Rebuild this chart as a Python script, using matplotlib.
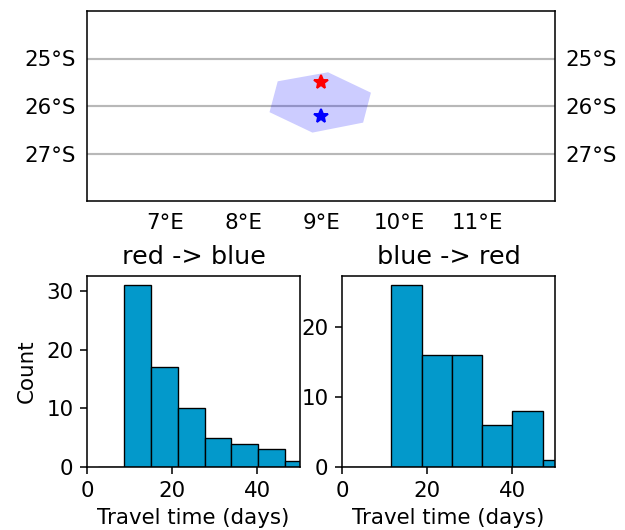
import matplotlib
matplotlib.use('Agg')
import matplotlib.pyplot as plt
from matplotlib.patches import Polygon

# map part
lon_ticks = [7, 8, 9, 10, 11]
lat_ticks = [-25, -26, -27]
lon_labels = ['7°E', '8°E', '9°E', '10°E', '11°E']
lat_labels = ['25°S', '26°S', '27°S']
poly_lon = [8.445, 9.09, 9.64, 9.54, 8.89, 8.34]
poly_lat = [-25.48, -25.29, -25.72, -26.35, -26.56, -26.13]
red_lon, red_lat = 9.0, -25.5
blue_lon, blue_lat = 9.0, -26.2

# histograms
edges_rb = [2.47, 8.75, 15.0, 21.3, 27.6, 33.9, 40.1, 46.4, 52.7]
counts_rb = [0, 31, 17, 10, 5, 4, 3, 1]
edges_br = [-2.6, 4.5, 11.6, 18.7, 25.8, 32.9, 40.0, 47.1, 54.2]
counts_br = [0, 0, 26, 16, 16, 6, 8, 1]

W, H = 625, 530
DPI = 140
bar_color = '#0399cb'

plt.rcParams['font.size'] = 11
plt.rcParams['axes.titlesize'] = 13.1

fig = plt.figure(figsize=(W / DPI, H / DPI), dpi=DPI)


def make_axes(x0, y0, x1, y1):
    return fig.add_axes([x0 / W, 1 - y1 / H, (x1 - x0) / W, (y1 - y0) / H])


ax_map = make_axes(87, 11, 555, 201)
ax_map.set_xlim(6, 12)
ax_map.set_ylim(-28, -24)
ax_map.set_xticks(lon_ticks)
ax_map.set_xticklabels(lon_labels)
ax_map.set_yticks(lat_ticks)
ax_map.set_yticklabels(lat_labels)
ax_map.tick_params(length=0, pad=5.5, labelleft=True, labelright=True)
ax_map.tick_params(axis='x', pad=6)
ax_map.grid(axis='y', color='#b8b8b8', linewidth=1.1)
ax_map.add_patch(Polygon(list(zip(poly_lon, poly_lat)), closed=True, facecolor='blue',
                         edgecolor='none', alpha=0.2, zorder=3))
ax_map.plot(red_lon, red_lat, marker='*', color='red', markersize=7.5, zorder=4)
ax_map.plot(blue_lon, blue_lat, marker='*', color='blue', markersize=7.5, zorder=4)

ax1 = make_axes(87, 276, 300, 467)
ax1.bar(edges_rb[:-1], counts_rb, width=[b - a for a, b in zip(edges_rb[:-1], edges_rb[1:])],
        align='edge', color=bar_color, edgecolor='black', linewidth=0.7)
ax1.set_xlim(0, 50)
ax1.set_ylim(0, 32.55)
ax1.set_xticks([0, 20, 40])
ax1.set_yticks([0, 10, 20, 30])
ax1.set_title('red -> blue')
ax1.set_xlabel('Travel time (days)')
ax1.set_ylabel('Count', labelpad=5)

ax2 = make_axes(342, 276, 555, 467)
ax2.bar(edges_br[:-1], counts_br, width=[b - a for a, b in zip(edges_br[:-1], edges_br[1:])],
        align='edge', color=bar_color, edgecolor='black', linewidth=0.7)
ax2.set_xlim(0, 50)
ax2.set_ylim(0, 27.3)
ax2.set_xticks([0, 20, 40])
ax2.set_yticks([0, 10, 20])
ax2.set_title('blue -> red')
ax2.set_xlabel('Travel time (days)')

fig.savefig('out.png', dpi=DPI)
